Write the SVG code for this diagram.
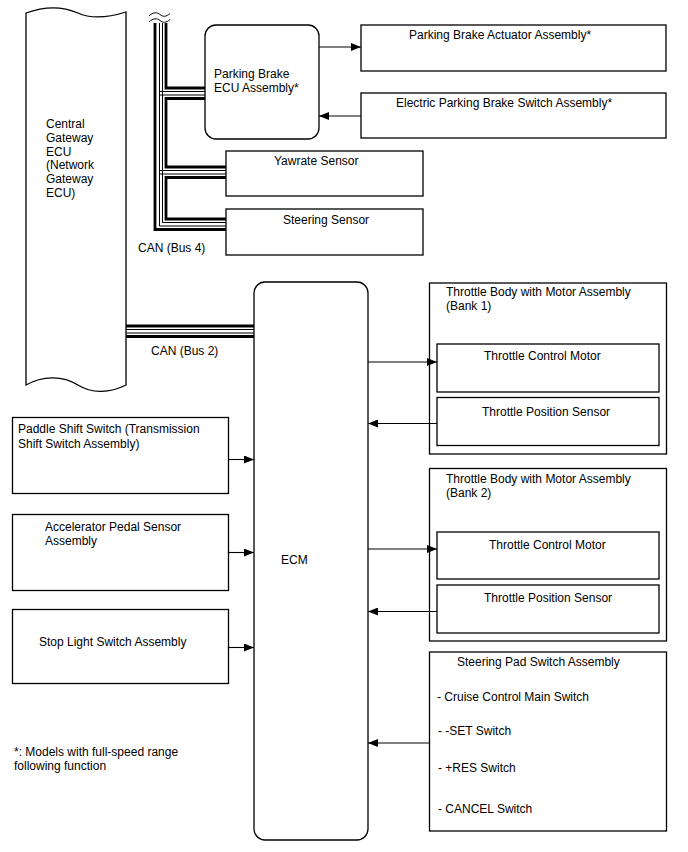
<svg xmlns="http://www.w3.org/2000/svg" width="688" height="852" viewBox="0 0 688 852">
<defs>
<style>
text{font-family:"Liberation Sans",Arial,sans-serif;font-size:12px;fill:#000}
.box{fill:#fff;stroke:#000;stroke-width:1.3}
.ln{fill:none;stroke:#000;stroke-width:1.1}
.tk{fill:none;stroke:#000;stroke-width:2.8}
.tn{fill:none;stroke:#000;stroke-width:1}
</style>
<marker id="ah" viewBox="0 0 10 8" refX="10" refY="4" markerWidth="10" markerHeight="8" markerUnits="userSpaceOnUse" orient="auto">
<path d="M0,0 L10,4 L0,8 Z" fill="#000"/>
</marker>
</defs>
<rect width="688" height="852" fill="#fff"/>

<g id="gateway">
<path class="box" d="M26,13 C45,6 62,6 78,13 C93,20 110,17 126,12 L126,385 C110,393 92,394 78,385 C62,375 42,376 26,385 Z"/>
<text x="46" y="128">Central</text>
<text x="46" y="142">Gateway</text>
<text x="46" y="156">ECU</text>
<text x="46" y="169">(Network</text>
<text x="46" y="183">Gateway</text>
<text x="46" y="197">ECU)</text>
</g>

<g id="pb-ecu">
<rect class="box" x="205" y="25" width="114" height="114" rx="11"/>
<text x="214" y="78">Parking Brake</text>
<text x="214" y="92">ECU Assembly*</text>
</g>
<g id="pb-actuator">
<rect class="box" x="361" y="25" width="305" height="46"/>
<text x="409" y="39">Parking Brake Actuator Assembly*</text>
</g>
<g id="epb-switch">
<rect class="box" x="361" y="93" width="305" height="45"/>
<text x="396" y="107">Electric Parking Brake Switch Assembly*</text>
</g>
<g id="yawrate">
<rect class="box" x="226" y="151" width="197" height="45"/>
<text x="274" y="165">Yawrate Sensor</text>
</g>
<g id="steering-sensor">
<rect class="box" x="226" y="209" width="197" height="46"/>
<text x="283" y="224">Steering Sensor</text>
</g>

<g id="ecm">
<rect class="box" x="254" y="282" width="114" height="558" rx="11"/>
<text x="281" y="564">ECM</text>
</g>

<g id="tb-bank1">
<rect class="box" x="429.5" y="283" width="237" height="171"/>
<text x="446" y="296">Throttle Body with Motor Assembly</text>
<text x="446" y="310">(Bank 1)</text>
</g>
<g id="tcm1">
<rect class="box" x="437" y="344" width="222" height="48"/>
<text x="484" y="360">Throttle Control Motor</text>
</g>
<g id="tps1">
<rect class="box" x="437" y="397.5" width="222" height="48"/>
<text x="482" y="416">Throttle Position Sensor</text>
</g>

<g id="tb-bank2">
<rect class="box" x="429.5" y="468.5" width="237" height="172.5"/>
<text x="446" y="483">Throttle Body with Motor Assembly</text>
<text x="446" y="497">(Bank 2)</text>
</g>
<g id="tcm2">
<rect class="box" x="437" y="532" width="222" height="47"/>
<text x="489" y="549">Throttle Control Motor</text>
</g>
<g id="tps2">
<rect class="box" x="437" y="585" width="222" height="48"/>
<text x="484" y="602">Throttle Position Sensor</text>
</g>

<g id="steering-pad">
<rect class="box" x="429.5" y="652" width="237" height="179"/>
<text x="457" y="666">Steering Pad Switch Assembly</text>
<text x="437" y="701">- Cruise Control Main Switch</text>
<text x="438" y="735">- -SET Switch</text>
<text x="438" y="772">- +RES Switch</text>
<text x="438" y="812.5">- CANCEL Switch</text>
</g>

<g id="paddle">
<rect class="box" x="12.5" y="417.5" width="216" height="76"/>
<text x="18" y="433">Paddle Shift Switch (Transmission</text>
<text x="18" y="447.5">Shift Switch Assembly)</text>
</g>
<g id="accel">
<rect class="box" x="12.5" y="514.5" width="216" height="76"/>
<text x="45" y="531">Accelerator Pedal Sensor</text>
<text x="45" y="544.5">Assembly</text>
</g>
<g id="stoplight">
<rect class="box" x="12.5" y="609.5" width="216" height="74"/>
<text x="39" y="646">Stop Light Switch Assembly</text>
</g>

<g id="note">
<text x="14" y="756">*: Models with full-speed range</text>
<text x="14" y="770">following function</text>
</g>

<g id="connectors">
<line class="ln" x1="319" y1="47" x2="361" y2="47" marker-end="url(#ah)"/>
<line class="ln" x1="361" y1="116" x2="319" y2="116" marker-end="url(#ah)"/>
<line class="ln" x1="368" y1="362" x2="437" y2="362" marker-end="url(#ah)"/>
<line class="ln" x1="437" y1="423.5" x2="368" y2="423.5" marker-end="url(#ah)"/>
<line class="ln" x1="368" y1="549" x2="437" y2="549" marker-end="url(#ah)"/>
<line class="ln" x1="437" y1="611.5" x2="368" y2="611.5" marker-end="url(#ah)"/>
<line class="ln" x1="429.5" y1="743" x2="368" y2="743" marker-end="url(#ah)"/>
<line class="ln" x1="228.5" y1="459.5" x2="254" y2="459.5" marker-end="url(#ah)"/>
<line class="ln" x1="228.5" y1="552.5" x2="254" y2="552.5" marker-end="url(#ah)"/>
<line class="ln" x1="228.5" y1="647.5" x2="254" y2="647.5" marker-end="url(#ah)"/>

<g id="can-bus2">
<line class="tk" x1="126" y1="326" x2="254" y2="326"/>
<line class="tn" x1="126" y1="329.5" x2="254" y2="329.5"/>
<line class="tn" x1="126" y1="333" x2="254" y2="333"/>
<line class="tk" x1="126" y1="336.5" x2="254" y2="336.5"/>
<text x="151" y="355">CAN (Bus 2)</text>
</g>

<g id="can-bus4">
<path class="tn" d="M149,16 C153,12 157,12 160,14.5 C163,17 166,17 170,13.5"/>
<path class="tn" d="M149,22 C153,18 157,18 160,20.5 C163,23 166,23 170,19.5"/>
<path class="tk" d="M155,23 L155,229.5 L226,229.5"/>
<path class="tn" d="M159.5,23 L159.5,226 L226,226"/>
<path class="tn" d="M162.5,23 L162.5,222.5 L226,222.5"/>
<path class="tk" d="M166,23 L166,88 L205,88"/>
<line class="tn" x1="159.5" y1="91.5" x2="205" y2="91.5"/>
<line class="tn" x1="159.5" y1="95" x2="205" y2="95"/>
<path class="tk" d="M205,98.5 L166,98.5 L166,167 L226,167"/>
<line class="tn" x1="159.5" y1="170.5" x2="226" y2="170.5"/>
<line class="tn" x1="159.5" y1="174" x2="226" y2="174"/>
<path class="tk" d="M226,177.5 L166,177.5 L166,219 L226,219"/>
<text x="138" y="252">CAN (Bus 4)</text>
</g>
</g>
</svg>
